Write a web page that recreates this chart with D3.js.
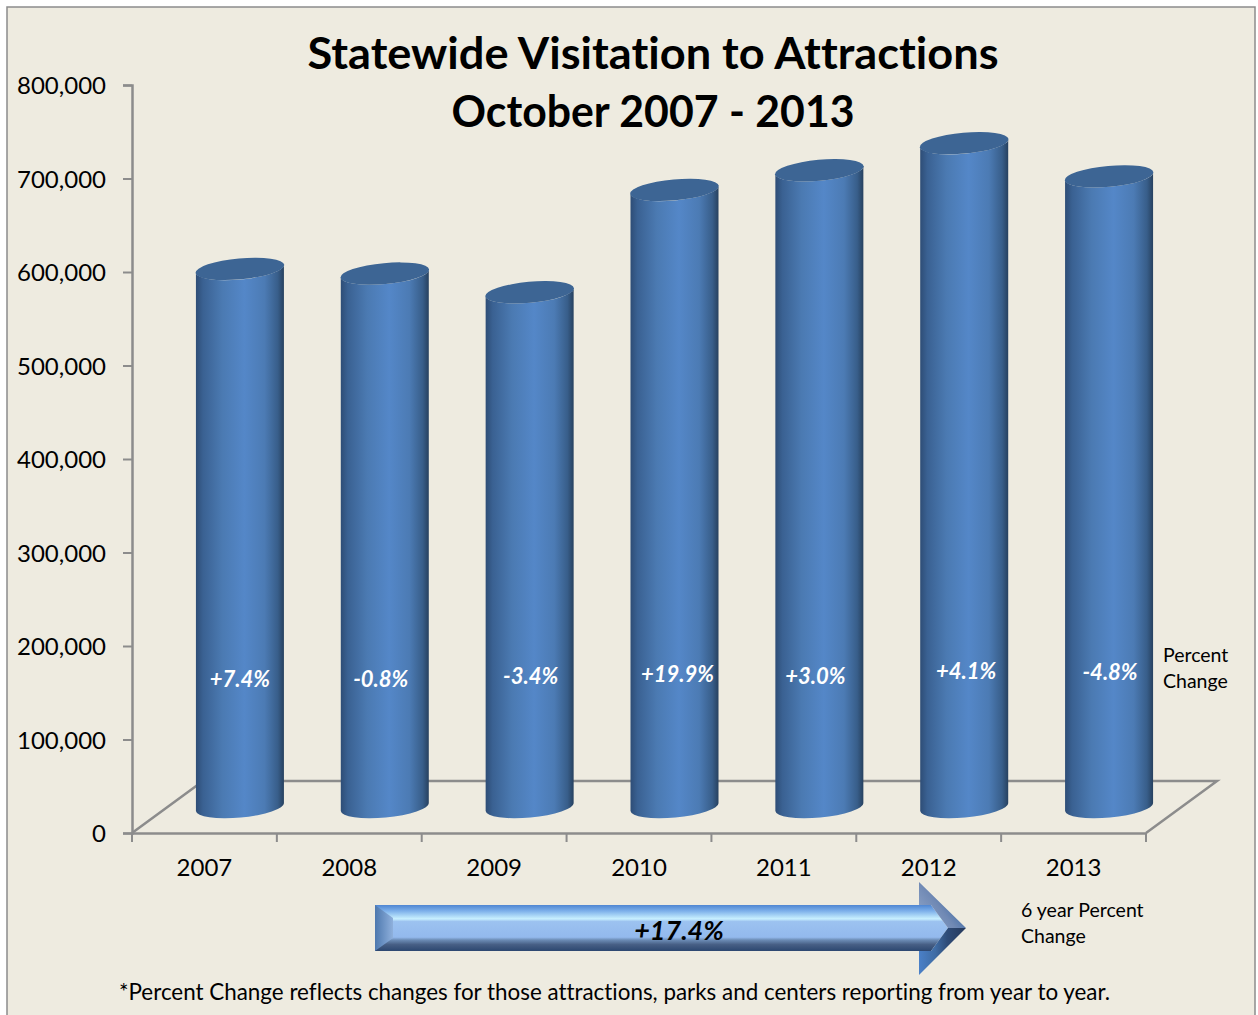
<!DOCTYPE html>
<html>
<head>
<meta charset="utf-8">
<title>Statewide Visitation to Attractions</title>
<script src="https://cdnjs.cloudflare.com/ajax/libs/d3/7.8.5/d3.min.js"></script>
<style>
	html, body { margin: 0; padding: 0; background: #fff; }
	svg { display: block; }
	text { font-family: Lato, "Open Sans", sans-serif; fill: #000; font-variant-ligatures: none; }
</style>
</head>
<body>
<div id="chart"></div>
<script>
'use strict';

// data
const years = ['2007', '2008', '2009', '2010', '2011', '2012', '2013'];
const visitors = [575500, 570500, 550500, 660000, 681000, 710000, 674500];
const changes = ['+7.4%', '-0.8%', '-3.4%', '+19.9%', '+3.0%', '+4.1%', '-4.8%'];
const yTicks = [0, 100000, 200000, 300000, 400000, 500000, 600000, 700000, 800000];
const titleLines = ['Statewide Visitation to Attractions', 'October 2007 - 2013'];
const totalChange = '+17.4%';

// hand placed nudges for the percent labels, they don't line up in the original
const labelDx = [0, -4, 1, 3, -4, 2, 1];
const labelDy = [0, 0, -3, -5, -3, -8, -7];
// Lato runs a bit differently to the original font, so fit the title lines
const titleWidths = [691, 403];

const W = 1258, H = 1015;
const plot = {left: 132, right: 1146, top: 85, bottom: 833};
const depth = {dx: 71, dy: 52};
const AXIS = '#8c8c8c';

const svg = d3.select('#chart').append('svg')
	.attr('width', W)
	.attr('height', H);

const defs = svg.append('defs');

function linear(id, x1, y1, x2, y2, stops) {
	const g = defs.append('linearGradient').attr('id', id)
		.attr('x1', x1).attr('y1', y1).attr('x2', x2).attr('y2', y2);
	stops.forEach(function (s) {
		g.append('stop').attr('offset', s[0]).attr('stop-color', s[1]);
	});
}

linear('cyl', 0, 0, 1, 0, [[0, '#2e4d76'], [0.08, '#3a6192'], [0.3, '#4b7ab2'], [0.55, '#5487c8'], [0.78, '#4c7bb4'], [0.93, '#385e8a'], [1, '#27415f']]);
linear('shaft', 0, 0, 0, 1, [[0, '#4f86d2'], [0.13, '#7db0ea'], [0.3, '#c8f0ff'], [0.36, '#9cc2f0'], [0.7, '#93b9ed'], [0.76, '#6c8cb5'], [0.86, '#475f85'], [1, '#2c4770']]);
linear('bevelLeft', 0, 0, 1, 0, [[0, '#4d78ae'], [1, '#8fb0dc']]);
linear('headTop', 0, 0.8, 0.8, 0.2, [[0, '#8ea4c8'], [0.5, '#7089b4'], [0.85, '#3f6ba5'], [1, '#2d5a96']]);
linear('headBottom', 0, 0, 1, 0, [[0, '#4a80c8'], [0.35, '#3f6ca4'], [0.6, '#2f4c78'], [1, '#25385a']]);

// panel
svg.append('rect')
	.attr('x', 7).attr('y', 7)
	.attr('width', 1248).attr('height', H + 20)
	.attr('fill', '#eeebe0')
	.attr('stroke', AXIS)
	.attr('stroke-width', 1.5);

// scales
const x = d3.scaleBand().domain(years).range([plot.left, plot.right]);
const y = d3.scaleLinear().domain([0, 800000]).range([plot.bottom, plot.top]);

// floor of the 3d box
svg.append('path')
	.attr('d', d3.line()([
		[plot.left, plot.bottom],
		[plot.left + depth.dx, plot.bottom - depth.dy],
		[plot.right + depth.dx, plot.bottom - depth.dy],
		[plot.right, plot.bottom]
	]))
	.attr('fill', 'none')
	.attr('stroke', AXIS)
	.attr('stroke-width', 2.5);

// axes
const yAxis = d3.axisLeft(y)
	.tickValues(yTicks)
	.tickSize(9)
	.tickPadding(17)
	.tickFormat(d3.format(','));

const yG = svg.append('g')
	.attr('transform', 'translate(' + plot.left + ',0)')
	.call(yAxis);

const xAxis = d3.axisBottom(x).tickSize(0).tickPadding(26);

const xG = svg.append('g')
	.attr('transform', 'translate(0,' + plot.bottom + ')')
	.call(xAxis);

[yG, xG].forEach(function (g) {
	g.selectAll('.domain').attr('stroke', AXIS).attr('stroke-width', 2.5);
	g.selectAll('line').attr('stroke', AXIS).attr('stroke-width', 2);
	g.selectAll('text').attr('font-family', 'Lato, sans-serif').attr('font-size', 24).attr('fill', '#000');
});
yG.selectAll('text').attr('dy', '0.37em');

// tick marks sit between the categories
xG.selectAll('line.edge')
	.data(years.concat(['end']))
	.enter().append('line')
	.attr('class', 'edge')
	.attr('x1', function (d, i) { return plot.left + i * x.step(); })
	.attr('x2', function (d, i) { return plot.left + i * x.step(); })
	.attr('y1', 0)
	.attr('y2', 9)
	.attr('stroke', AXIS)
	.attr('stroke-width', 2);

// cylinders
const rx = 44, ry = 10.5, tilt = -5.2;
const lift = 4;   // how far the rim drops on the left side because of the tilt
const bars = years.map(function (year, i) {
	return {year: year, value: visitors[i], change: changes[i], i: i};
});

function barX(d) { return x(d.year) + x.bandwidth() / 2 + depth.dx / 2; }
function barY(v) { return y(v) - depth.dy / 2; }

const barG = svg.append('g').selectAll('g')
	.data(bars)
	.enter().append('g');

barG.append('path')
	.attr('fill', 'url(#cyl)')
	.attr('d', function (d) {
		const cx = barX(d), top = barY(d.value), base = barY(0);
		return 'M' + (cx - rx) + ',' + (top + lift) +
			'L' + (cx - rx) + ',' + (base + lift) +
			'A' + rx + ',' + ry + ' ' + tilt + ' 0 0 ' + (cx + rx) + ',' + (base - lift) +
			'L' + (cx + rx) + ',' + (top - lift) +
			'A' + rx + ',' + ry + ' ' + tilt + ' 0 1 ' + (cx - rx) + ',' + (top + lift) + 'Z';
	});

barG.append('ellipse')
	.attr('rx', rx + 0.5)
	.attr('ry', ry)
	.attr('fill', '#3d6594')
	.attr('transform', function (d) {
		return 'translate(' + barX(d) + ',' + barY(d.value) + ') rotate(' + tilt + ')';
	});

barG.append('text')
	.attr('x', function (d) { return barX(d) + labelDx[d.i]; })
	.attr('y', function (d) { return 679 + labelDy[d.i]; })
	.attr('dy', '0.35em')
	.attr('text-anchor', 'middle')
	.attr('font-size', 22)
	.attr('font-weight', 700)
	.attr('font-style', 'italic')
	.style('fill', '#fff')
	.text(function (d) { return d.change; });

// title
svg.append('g').selectAll('text')
	.data(titleLines)
	.enter().append('text')
	.attr('x', 653)
	.attr('y', function (d, i) { return 69 + i * 58; })
	.attr('text-anchor', 'middle')
	.attr('font-size', 44)
	.attr('font-weight', 700)
	.attr('textLength', function (d, i) { return titleWidths[i]; })
	.attr('lengthAdjust', 'spacingAndGlyphs')
	.text(function (d) { return d; });

// side notes
function note(lines, px, py) {
	svg.append('g').selectAll('text')
		.data(lines)
		.enter().append('text')
		.attr('x', px)
		.attr('y', function (d, i) { return py + i * 26; })
		.attr('font-size', 19.5)
		.text(function (d) { return d; });
}
note(['Percent', 'Change'], 1163, 662);
note(['6 year Percent', 'Change'], 1021, 917);

// big arrow
const a = {x0: 375, x1: 966, neck: 919, top: 905, bottom: 951, headTop: 882, headBottom: 975, mid: 928, bevel: 18, inner: 948, shoulder: 931};
const arrow = svg.append('g');
const poly = d3.line();

arrow.append('path')
	.attr('d', poly([[a.x0, a.top], [a.shoulder, a.top], [a.inner, a.mid], [a.shoulder, a.bottom], [a.x0, a.bottom]]) + 'Z')
	.attr('fill', 'url(#shaft)');
arrow.append('path')
	.attr('d', poly([[a.x0, a.top], [a.x0 + a.bevel, a.top + 13], [a.x0 + a.bevel, a.bottom - 13], [a.x0, a.bottom]]) + 'Z')
	.attr('fill', 'url(#bevelLeft)');
arrow.append('path')
	.attr('d', poly([[a.neck, a.headTop], [a.x1, a.mid], [a.inner, a.mid], [a.shoulder, a.top], [a.neck, a.top]]) + 'Z')
	.attr('fill', 'url(#headTop)');
arrow.append('path')
	.attr('d', poly([[a.neck, a.headBottom], [a.x1, a.mid], [a.inner, a.mid], [a.shoulder, a.bottom], [a.neck, a.bottom]]) + 'Z')
	.attr('fill', 'url(#headBottom)');

arrow.append('text')
	.attr('x', 679)
	.attr('y', 931)
	.attr('dy', '0.35em')
	.attr('text-anchor', 'middle')
	.attr('font-size', 27)
	.attr('font-weight', 700)
	.attr('font-style', 'italic')
	.text(totalChange);

// footnote
svg.append('text')
	.attr('x', 119)
	.attr('y', 1000)
	.attr('font-size', 22.4)
	.text('*Percent Change reflects changes for those attractions, parks and centers reporting from year to year.');
</script>
</body>
</html>
